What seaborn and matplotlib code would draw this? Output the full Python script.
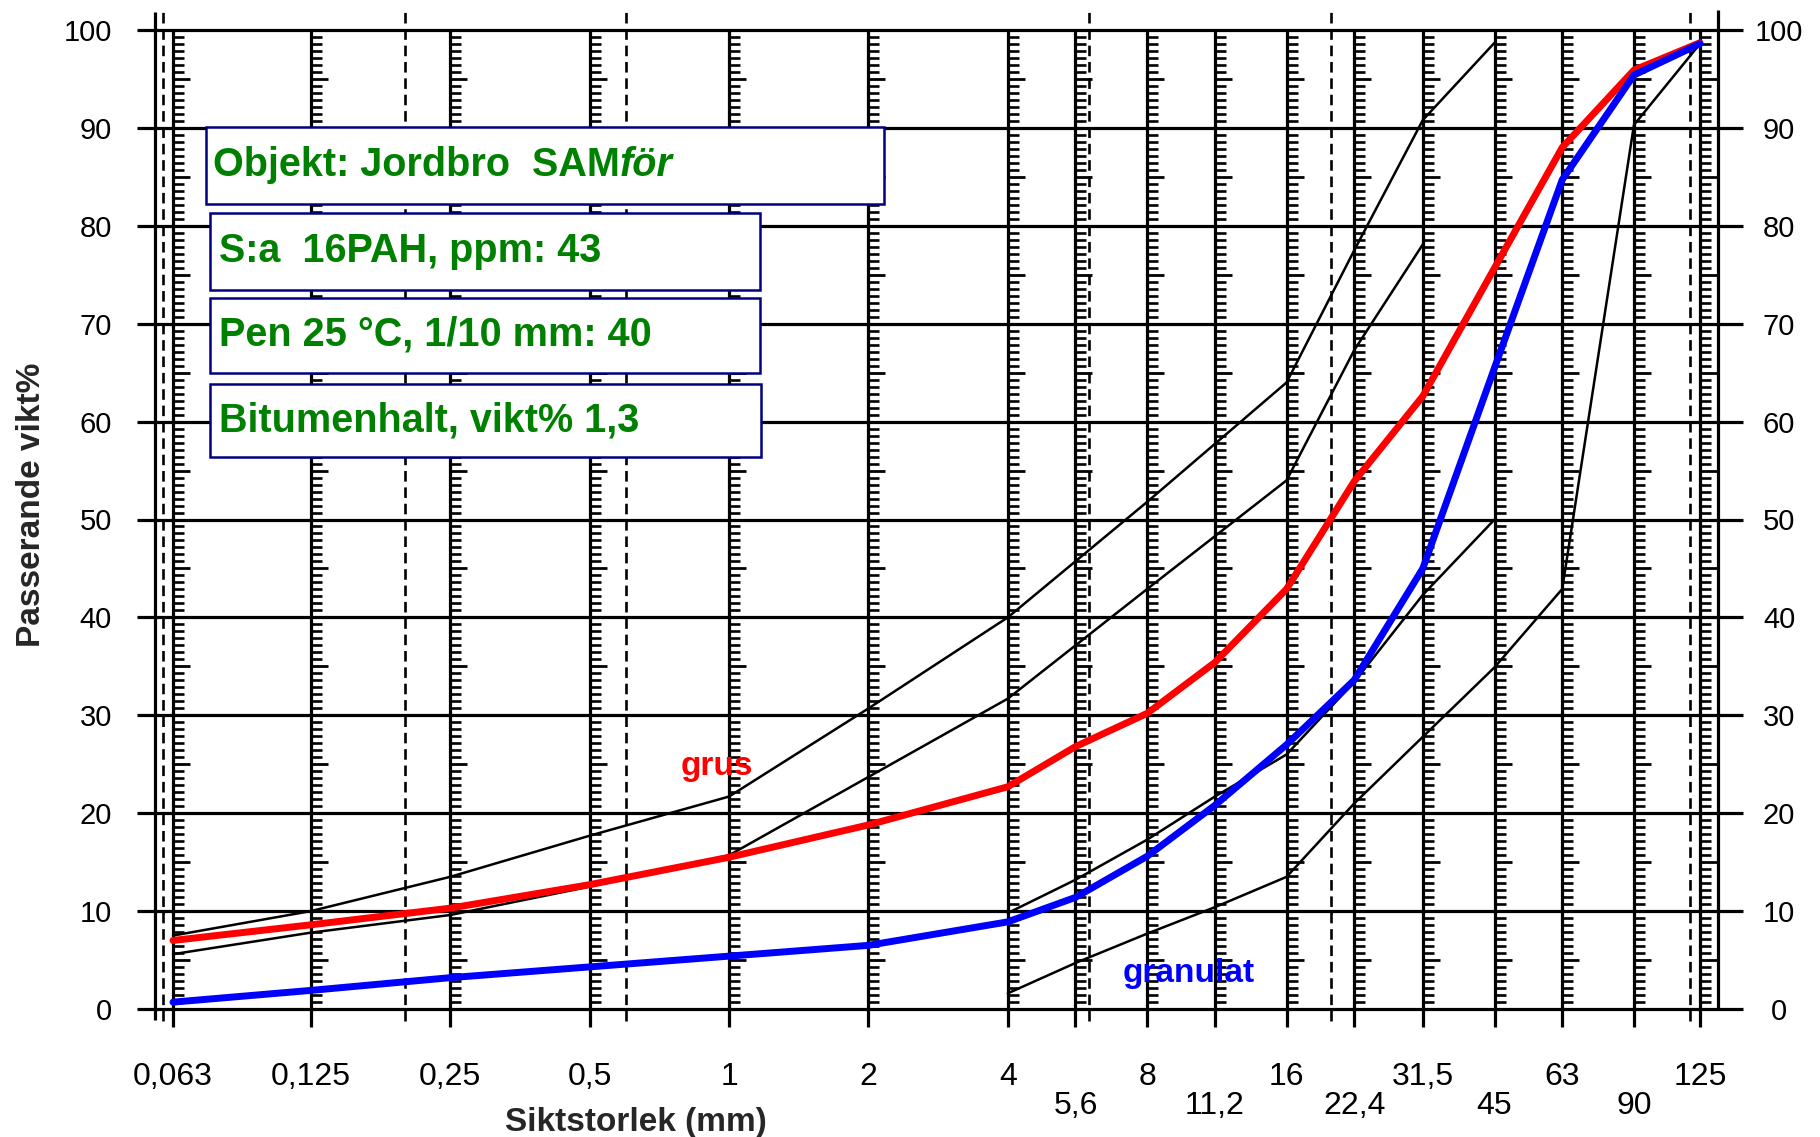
import numpy as np
import matplotlib
matplotlib.use("Agg")
import matplotlib.pyplot as plt
from matplotlib.patches import Rectangle
from matplotlib.path import Path
from matplotlib.ticker import NullLocator
import seaborn as sns

sns.set_style("white")
plt.rcParams["font.family"] = ["Liberation Sans", "DejaVu Sans"]

# ---------------------------------------------------------------- data
sieves = [0.063, 0.125, 0.25, 0.5, 1, 2, 4, 5.6, 8, 11.2, 16, 22.4, 31.5, 45, 63, 90, 125]
sieve_labels = ["0,063", "0,125", "0,25", "0,5", "1", "2", "4", "5,6", "8", "11,2",
                "16", "22,4", "31,5", "45", "63", "90", "125"]
lower_row = ["5,6", "11,2", "22,4", "45", "90"]
fraction_limits = [0.06, 0.2, 0.6, 6, 20, 119]   # dashed lines
y_ticks = list(range(0, 101, 10))

grus = [7.0, 8.6, 10.3, 12.7, 15.5, 18.8, 22.7, 26.8, 30.2, 35.4, 42.9, 53.9,
        62.6, 75.7, 88.0, 95.9, 98.7]
granulat = [0.7, 1.9, 3.2, 4.3, 5.4, 6.5, 8.9, 11.4, 15.6, 20.8, 27.0, 33.6,
            45.0, 65.5, 84.7, 95.4, 98.6]

# grading envelopes (thin black)
grus_upper_x = [0.063, 0.125, 0.25, 0.5, 1, 2, 4, 8, 16, 22.4, 31.5, 45]
grus_upper_y = [7.5, 10.0, 13.5, 17.7, 21.7, 30.7, 40.0, 51.8, 64.0, 77.5, 90.8, 98.7]
grus_lower_x = [0.063, 0.125, 0.25, 0.5, 1, 2, 4, 8, 16, 22.4, 31.5]
grus_lower_y = [5.6, 7.8, 9.6, 12.5, 15.7, 23.7, 31.7, 42.9, 54.0, 67.3, 78.1]
gran_upper_x = [4, 5.6, 8, 11.2, 16, 22.4, 31.5, 45]
gran_upper_y = [9.8, 13.2, 17.3, 21.7, 26.0, 33.4, 42.3, 50.0]
gran_lower_x = [4, 5.6, 8, 11.2, 16, 22.4, 31.5, 45, 63, 90, 125]
gran_lower_y = [1.6, 4.7, 7.7, 10.4, 13.5, 21.0, 27.8, 34.9, 42.9, 90.3, 98.6]

info_lines = ["S:a  16PAH, ppm: 43", "Pen 25 °C, 1/10 mm: 40", "Bitumenhalt, vikt% 1,3"]

GREEN = "#008000"
NAVY = "#000080"

# ---------------------------------------------------------------- figure
W, H = 1820, 1137
fig = plt.figure(figsize=(W / 100, H / 100), dpi=100)
L, R, T, B = 155, 1718, 30, 1009
ax = fig.add_axes([L / W, 1 - B / H, (R - L) / W, (B - T) / H])
ax.set_xscale("log", base=2)
for s in ax.spines.values():
    s.set_visible(False)

# horizontal grid, sticking out a little on both sides
ax.hlines(y_ticks, -0.0115, 1.016, transform=ax.get_yaxis_transform(),
          color="black", lw=2.3, clip_on=False, zorder=1)
# frame sides
ax.vlines([0], -0.011, 1.018, transform=ax.transAxes, color="black", lw=2.3, clip_on=False)
ax.vlines([1], 0, 1.02, transform=ax.transAxes, color="black", lw=2.3, clip_on=False)
# sieve lines
ax.vlines(sieves, -1.8, 100, color="black", lw=2.3, clip_on=False, zorder=1)
# fraction limits
ax.vlines(fraction_limits, -1.2, 101.8, color="black", lw=1.9,
          linestyles=(0, (4, 2.2)), clip_on=False, zorder=1)

# small tick marks on the right side of every sieve line
tick_path = Path([(0, 0), (1, 0)])
steps = np.arange(0, 100, 10 / 14)
short = [v for v in steps if abs(v % 10) > 0.01 and abs(v % 10 - 5) > 0.01 and abs(v % 10 - 10) > 0.01]
long_ = list(range(5, 100, 10))
sx, sy = np.meshgrid(sieves, short)
lx, ly = np.meshgrid(sieves, long_)
ax.plot(sx.ravel(), sy.ravel(), ls="none", marker=tick_path, ms=15.5,
        mew=1.9, color="black", clip_on=False, zorder=1)
ax.plot(lx.ravel(), ly.ravel(), ls="none", marker=tick_path, ms=25,
        mew=2.0, color="black", clip_on=False, zorder=1)

# envelopes
for ex, ey in [(grus_upper_x, grus_upper_y), (grus_lower_x, grus_lower_y),
               (gran_upper_x, gran_upper_y), (gran_lower_x, gran_lower_y)]:
    sns.lineplot(x=ex, y=ey, ax=ax, color="black", lw=1.8, sort=False,
                 estimator=None, zorder=2)

# measured curves
sns.lineplot(x=sieves, y=grus, ax=ax, color="#ff0000", lw=5, sort=False,
             estimator=None, zorder=3)
sns.lineplot(x=sieves, y=granulat, ax=ax, color="#0000ff", lw=5, sort=False,
             estimator=None, zorder=3)

ax.text(0.94, 24.8, "grus", color="#ff0000", fontsize=24, fontweight="bold",
        ha="center", va="center", zorder=4)
ax.text(9.85, 3.6, "granulat", color="#0000ff", fontsize=24, fontweight="bold",
        ha="center", va="center", zorder=4)

# ---------------------------------------------------------------- axes / ticks
ax.set_xlim(0.0576, 136.7)
ax.set_ylim(0, 100)
ax.set_xticks(sieves)
ax.set_xticklabels([("\n" + l) if l in lower_row else l for l in sieve_labels])
ax.xaxis.set_minor_locator(NullLocator())
for t in ax.get_xticklabels():
    t.set_linespacing(0.97)
ax.tick_params(axis="x", length=0, pad=38, labelsize=23, labelcolor="black")

ax.set_yticks(y_ticks)
ax.tick_params(axis="y", length=0, labelsize=21, pad=31, labelcolor="black")

# right-hand value labels on a twin axis, centred
ax2 = ax.twinx()
ax2.set_ylim(0, 100)
ax2.set_yticks(y_ticks)
ax2.tick_params(axis="y", length=0, labelsize=21, pad=44, labelcolor="black")
for lbl in ax2.get_yticklabels():
    lbl.set_horizontalalignment("center")
for s in ax2.spines.values():
    s.set_visible(False)

ax.text(-0.0787, 0.515, "Passerande vikt%", transform=ax.transAxes, rotation=90,
        ha="center", va="center", fontsize=24, fontweight="bold")
ax.text(0.3077, -0.1164, "Siktstorlek (mm)", transform=ax.transAxes,
        ha="center", va="center", fontsize=24, fontweight="bold")

# ---------------------------------------------------------------- info boxes
def box(x0, y0, x1, y1):
    fig.add_artist(Rectangle((x0 / W, 1 - y1 / H), (x1 - x0) / W, (y1 - y0) / H,
                             transform=fig.transFigure, fc="white", ec=NAVY,
                             lw=1.8, zorder=5))

box(206, 127, 884, 204)
box(210, 213, 760, 290)
box(210, 298, 760, 373)
box(210, 384, 761, 457)

txt_kw = dict(color=GREEN, fontsize=28.5, fontweight="bold", va="center", zorder=6)
head = fig.text(213 / W, 1 - 165 / H, "Objekt: Jordbro  SAM", **txt_kw)
for y, line in zip([251, 335, 420], info_lines):
    fig.text(219 / W, 1 - y / H, line, **txt_kw)

fig.canvas.draw()
ext = head.get_window_extent()
fig.text(ext.x1 / W, 1 - 165 / H, "för", fontstyle="italic", **txt_kw)

fig.savefig("out.png", dpi=100)
